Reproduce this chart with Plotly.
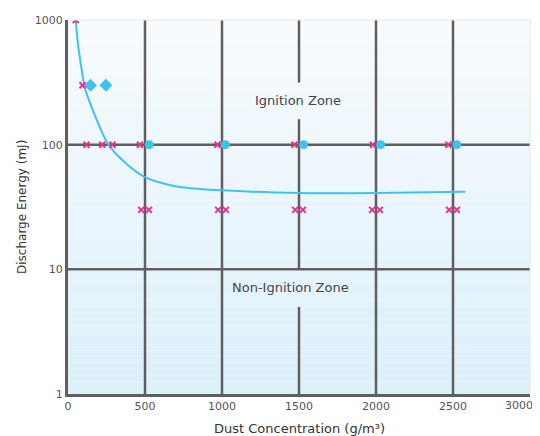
import plotly.graph_objects as go

# --- data ---
ign_x = [50, 94, 120, 222, 289, 467, 970, 1470, 1980, 2470,
         475, 525, 975, 1025, 1475, 1525, 1975, 2025, 2475, 2525]
ign_y = [1000, 300, 100, 100, 100, 100, 100, 100, 100, 100,
         30, 30, 30, 30, 30, 30, 30, 30, 30, 30]
dia_x = [146, 246]
dia_y = [300, 300]
dot_x = [528, 1022, 1530, 2030, 2525]
dot_y = [100, 100, 100, 100, 100]
curve_x = [50, 65, 87, 109, 163, 261, 381, 500, 717, 1000, 1500, 2000, 2580]
curve_y = [1000, 638, 413, 286, 187, 101, 70, 55, 46, 43, 41, 41, 42]
x_ticks = [0, 500, 1000, 1500, 2000, 2500]
x_last_tick = 3000
y_ticks = [1, 10, 100, 1000]

PINK = "#e8318f"
CYAN = "#3cc4ef"
GRID = "#5f5f5f"
FONT = "DejaVu Sans"

fig = go.Figure()

# gradient background bands
shapes = []
n = 60
top = (248, 251, 254)
bot = (220, 240, 250)
for i in range(n):
    t = i / (n - 1)
    c = tuple(round(top[k] + (bot[k] - top[k]) * t) for k in range(3))
    shapes.append(dict(type="rect", xref="paper", yref="paper", x0=0, x1=1,
                       y0=1 - (i + 1) / n, y1=1 - i / n, fillcolor="rgb(%d,%d,%d)" % c,
                       line=dict(width=0), layer="below"))

# grid segments (shape coordinates are data values)
def vseg(x, y0, y1):
    shapes.append(dict(type="line", xref="x", yref="y", x0=x, x1=x, y0=y0, y1=y1,
                       line=dict(color=GRID, width=2.5), layer="below"))
def hseg(y, x0, x1):
    shapes.append(dict(type="line", xref="x", yref="y", x0=x0, x1=x1, y0=y, y1=y,
                       line=dict(color=GRID, width=2.5), layer="below"))

for xv in [500, 1000, 2000, 2500]:
    vseg(xv, 1, 1000)
vseg(1500, 1, 5)
vseg(1500, 10, 160)
vseg(1500, 315, 1000)
hseg(10, 0, 3000)
hseg(100, 0, 3000)
# frame
shapes.append(dict(type="line", xref="paper", yref="paper", x0=0, x1=1, y0=1, y1=1,
                   line=dict(color="#e4e8ea", width=1)))
shapes.append(dict(type="line", xref="paper", yref="paper", x0=1, x1=1, y0=0, y1=1,
                   line=dict(color="#e4e8ea", width=1)))

fig.add_trace(go.Scatter(x=curve_x, y=curve_y, mode="lines",
                         line=dict(color=CYAN, width=2, shape="spline", smoothing=0.8),
                         hoverinfo="skip"))
fig.add_trace(go.Scatter(x=ign_x, y=ign_y, mode="markers",
                         marker=dict(symbol="x-thin", size=6, line=dict(color=PINK, width=2))))
fig.add_trace(go.Scatter(x=dia_x, y=dia_y, mode="markers",
                         marker=dict(symbol="diamond", size=10, color=CYAN)))
fig.add_trace(go.Scatter(x=dot_x, y=dot_y, mode="markers",
                         marker=dict(symbol="circle", size=9, color=CYAN)))

fig.update_layout(
    width=532, height=428,
    margin=dict(l=60, r=10, t=12, b=42),
    paper_bgcolor="white", plot_bgcolor="rgba(0,0,0,0)",
    showlegend=False,
    font=dict(family=FONT, size=10, color="#444"),
    shapes=shapes,
    annotations=[
        dict(x=1491, y=2.354, xref="x", yref="y", text="Ignition Zone",
             showarrow=False, font=dict(size=13, color="#444")),
        dict(x=1445, y=0.853, xref="x", yref="y", text="Non-Ignition Zone",
             showarrow=False, font=dict(size=13, color="#444")),
        dict(x=0.5, y=0, xref="paper", yref="paper", yshift=-34, yanchor="middle",
             text="Dust Concentration (g/m³)", showarrow=False,
             font=dict(size=13, color="#333")),
        dict(x=0, y=0.5, xref="paper", yref="paper", xshift=-46, xanchor="center",
             yanchor="middle", textangle=-90, text="Discharge Energy (mJ)",
             showarrow=False, font=dict(size=12, color="#333")),
        dict(x=x_last_tick, y=0, xref="x", yref="paper", xanchor="right", yanchor="top",
             xshift=5, yshift=-3, text=str(x_last_tick), showarrow=False,
             font=dict(size=11, color="#555")),
    ],
    xaxis=dict(range=[0, 3000], tickvals=x_ticks, showgrid=False, zeroline=False,
               showline=True, linecolor=GRID, linewidth=3, ticks="", automargin=False,
               tickfont=dict(size=11, color="#555")),
    yaxis=dict(type="log", range=[0, 3], tickvals=y_ticks, ticktext=["1", "10", "100", "1000"],
               showgrid=False, zeroline=False, showline=True, linecolor=GRID, linewidth=3,
               ticks="", automargin=False,
               tickfont=dict(size=11, color="#555")),
)

fig.write_html("out.html")
